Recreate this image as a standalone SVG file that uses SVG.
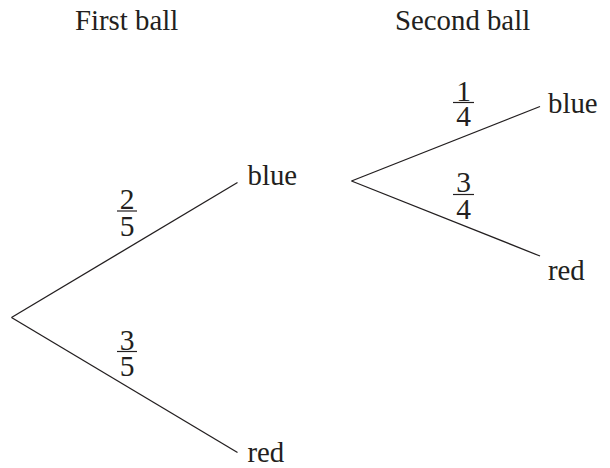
<svg xmlns="http://www.w3.org/2000/svg" width="610" height="468" viewBox="0 0 610 468">
<style>
text{font-family:"Liberation Serif","Times New Roman",serif;font-size:28.8px;fill:#231f20}
.c{text-anchor:middle;font-size:29.5px}
.br{stroke:#231f20;stroke-width:1.3;fill:none}
.bar{stroke:#231f20;stroke-width:1.2}
</style>
<rect width="610" height="468" fill="#fff"/>
<g id="headings">
<text x="75" y="30">First ball</text>
<text x="395" y="30">Second ball</text>
</g>
<g id="connectors">
<line class="br" x1="11.5" y1="317.5" x2="237.5" y2="182.5"/>
<line class="br" x1="11.5" y1="317.5" x2="237.5" y2="452.5"/>
<line class="br" x1="351.5" y1="181" x2="540" y2="106.5"/>
<line class="br" x1="351.5" y1="181" x2="540" y2="256"/>
</g>
<g id="p-first-blue">
<text class="c" x="127" y="209">2</text>
<line class="bar" x1="117" y1="211" x2="137" y2="211"/>
<text class="c" x="127" y="235.5">5</text>
</g>
<g id="p-first-red">
<text class="c" x="127" y="349.5">3</text>
<line class="bar" x1="117" y1="351.5" x2="137" y2="351.5"/>
<text class="c" x="127" y="376">5</text>
</g>
<g id="p-second-blue">
<text class="c" x="463.5" y="100.5">1</text>
<line class="bar" x1="453" y1="102.5" x2="474" y2="102.5"/>
<text class="c" x="463.5" y="126">4</text>
</g>
<g id="p-second-red">
<text class="c" x="463.5" y="192">3</text>
<line class="bar" x1="453" y1="194.5" x2="474" y2="194.5"/>
<text class="c" x="463.5" y="219">4</text>
</g>
<g id="node-first-blue"><text x="247.5" y="185">blue</text></g>
<g id="node-first-red"><text x="247.5" y="462">red</text></g>
<g id="node-second-blue"><text x="548" y="113">blue</text></g>
<g id="node-second-red"><text x="548" y="280">red</text></g>
</svg>
